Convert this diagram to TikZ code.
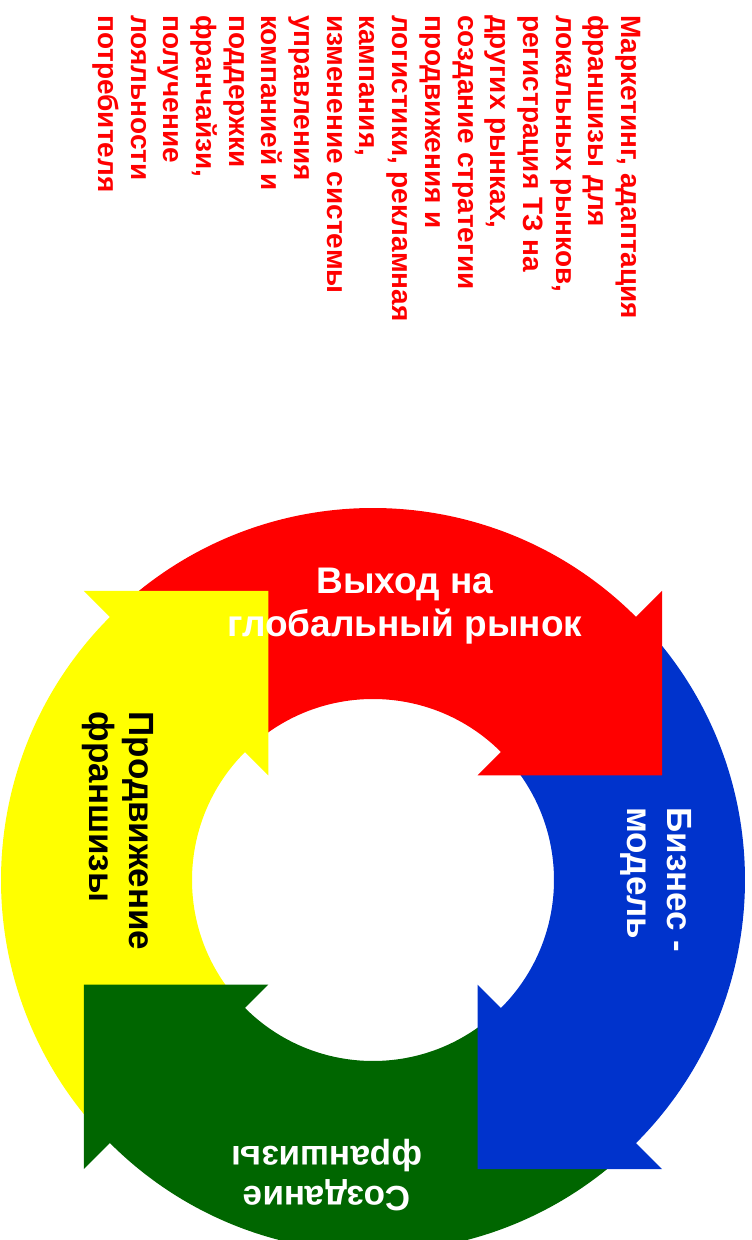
\documentclass[tikz,border=0pt]{standalone}
\usepackage{fontspec}
\setmainfont{Liberation Sans}
\definecolor{cyclered}{RGB}{255,0,0}
\definecolor{cycleblue}{RGB}{0,51,204}
\definecolor{cyclegreen}{RGB}{0,102,0}
\definecolor{cycleyellow}{RGB}{255,255,0}

\begin{document}
\begin{tikzpicture}
	[
	x=1pt, y=1pt,
	label/.style = {font=\fontsize{35}{40}\selectfont\bfseries, inner sep=0pt},
	notes/.style = {font=\fontsize{28}{32.7}\selectfont\bfseries, text=cyclered, align=left, inner sep=0pt}
	]
	\useasboundingbox (-373,-360) rectangle (379,880);

	% bands of the ring (each tail starts under the head before it)
	\fill[cyclered] (130:372) arc[start angle=130, end angle=44, radius=372] -- (44:181) arc[start angle=44, end angle=130, radius=181] -- cycle;
	\fill[cycleblue] (40:372) arc[start angle=40, end angle=-46, radius=372] -- (-46:181) arc[start angle=-46, end angle=40, radius=181] -- cycle;
	\fill[cyclegreen] (-50:372) arc[start angle=-50, end angle=-136, radius=372] -- (-136:181) arc[start angle=-136, end angle=-50, radius=181] -- cycle;
	\fill[cycleyellow] (220:372) arc[start angle=220, end angle=134, radius=372] -- (134:181) arc[start angle=134, end angle=220, radius=181] -- cycle;

	% arrow heads
	\fill[cyclered] (45:409) -- (19.9:307.6) -- (45:148) -- cycle;
	\fill[cycleblue] (-45:409) -- (-70.1:307.6) -- (-45:148) -- cycle;
	\fill[cyclegreen] (-135:409) -- (-160.1:307.6) -- (-135:148) -- cycle;
	\fill[cycleyellow] (135:409) -- (109.9:307.6) -- (135:148) -- cycle;

	\node[label, text=white, align=center, font=\fontsize{37}{43}\selectfont\bfseries] (vyhod) at (32,274) {Выход на\\глобальный рынок};
	\node[label, text=white, align=left, rotate=-90] (biznes) at (283,0) {Бизнес -\\модель};
	\node[label, text=white, align=center, rotate=180] (sozdanie) at (-46,-295) {Создание\\франшизы};
	\node[label, text=black, align=left, rotate=-90] (prodvizh) at (-255,49) {Продвижение\\франшизы};

	\node[notes, rotate=-90, anchor=north west] (marketing) at (268,865) {Маркетинг, адаптация\\франшизы для\\локальных рынков,\\регистрация ТЗ на\\других рынках,\\создание стратегии\\продвижения и\\логистики, рекламная\\кампания,\\изменение системы\\управления\\компанией и\\поддержки\\франчайзи,\\получение\\лояльности\\потребителя};
\end{tikzpicture}
\end{document}
